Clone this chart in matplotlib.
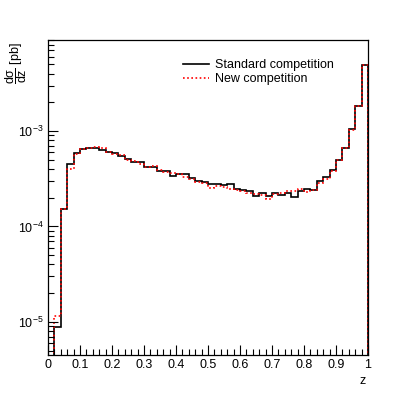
import numpy as np
import matplotlib
matplotlib.use("Agg")
import matplotlib.pyplot as plt
from matplotlib.ticker import FixedLocator, FixedFormatter, MultipleLocator

plt.rcParams['font.family'] = ['Liberation Sans', 'DejaVu Sans']
plt.rcParams['mathtext.fontset'] = 'custom'
plt.rcParams['mathtext.rm'] = 'Liberation Sans'
plt.rcParams['mathtext.it'] = 'Liberation Sans:italic'

# 50 bins in z from 0 to 1
edges = np.linspace(0, 1, 51)

standard = [3e-6, 8.9e-6, 1.52e-4, 4.51e-4, 5.93e-4, 6.53e-4, 6.68e-4, 6.59e-4, 6.28e-4, 6.07e-4,
            5.83e-4, 5.51e-4, 5.09e-4, 4.70e-4, 4.70e-4, 4.22e-4, 4.22e-4, 3.81e-4, 3.81e-4, 3.40e-4,
            3.55e-4, 3.55e-4, 3.20e-4, 2.99e-4, 2.92e-4, 2.81e-4, 2.81e-4, 2.70e-4, 2.77e-4, 2.45e-4,
            2.41e-4, 2.34e-4, 2.07e-4, 2.26e-4, 2.08e-4, 2.23e-4, 2.14e-4, 2.23e-4, 2.02e-4, 2.34e-4,
            2.49e-4, 2.41e-4, 2.99e-4, 3.30e-4, 3.91e-4, 4.97e-4, 6.60e-4, 1.04e-3, 1.83e-3, 4.91e-3]

new = [3e-6, 1.15e-5, 1.52e-4, 3.97e-4, 5.74e-4, 6.45e-4, 6.60e-4, 6.75e-4, 6.70e-4, 6.07e-4,
       5.74e-4, 5.60e-4, 5.00e-4, 4.85e-4, 4.55e-4, 4.25e-4, 4.30e-4, 3.90e-4, 3.70e-4, 3.66e-4,
       3.55e-4, 3.27e-4, 3.14e-4, 2.90e-4, 2.84e-4, 2.51e-4, 2.67e-4, 2.61e-4, 2.47e-4, 2.41e-4,
       2.37e-4, 2.23e-4, 2.19e-4, 2.12e-4, 1.95e-4, 2.19e-4, 2.23e-4, 2.35e-4, 2.35e-4, 2.45e-4,
       2.32e-4, 2.41e-4, 2.87e-4, 3.12e-4, 3.85e-4, 4.97e-4, 6.60e-4, 1.03e-3, 1.82e-3, 4.90e-3]

x_ticks = [0, 0.1, 0.2, 0.3, 0.4, 0.5, 0.6, 0.7, 0.8, 0.9, 1]
x_labels = ['0', '0.1', '0.2', '0.3', '0.4', '0.5', '0.6', '0.7', '0.8', '0.9', '1']
y_ticks = [1e-5, 1e-4, 1e-3]
y_labels = [r'$10^{-5}$', r'$10^{-4}$', r'$10^{-3}$']


def main():
    fig = plt.figure(figsize=(4.07, 3.96), dpi=100)
    ax = fig.add_axes([48/407, 1 - 355/396, 320/407, 315/396])

    ax.stairs(standard, edges, color='black', lw=1.2, label='Standard competition')
    ax.stairs(new, edges, color='red', lw=1.2, ls=(0, (1, 1.5)), label='New competition')

    ax.set_yscale('log')
    ax.set_xlim(0, 1)
    ax.set_ylim(4.5e-6, 9e-3)

    ax.xaxis.set_major_locator(FixedLocator(x_ticks))
    ax.xaxis.set_major_formatter(FixedFormatter(x_labels))
    ax.xaxis.set_minor_locator(MultipleLocator(0.02))
    ax.yaxis.set_major_locator(FixedLocator(y_ticks))
    ax.yaxis.set_major_formatter(FixedFormatter(y_labels))
    minors = [m * 10.0**e for e in range(-6, -1) for m in range(2, 10)]
    ax.yaxis.set_minor_locator(FixedLocator(minors))

    ax.tick_params(which='both', direction='in', top=False, right=False,
                   labelsize=9, width=0.8, pad=3)
    ax.tick_params(which='major', length=7)
    ax.tick_params(which='minor', length=4)
    for s in ax.spines.values():
        s.set_linewidth(0.9)

    fig.text(16/407, 1 - 42/396, r'$\dfrac{\mathrm{d\sigma}}{\mathrm{dz}}$ [pb]', rotation=90,
             ha='center', va='top', fontsize=9)
    fig.text(366/407, 1 - 384/396, 'z', ha='right', va='baseline', fontsize=9)

    ax.legend(loc='upper left', bbox_to_anchor=(130/320, 1 - 14/315), frameon=False,
              fontsize=9, handlelength=2.1, handletextpad=0.5, labelspacing=0.15,
              borderaxespad=0)

    fig.savefig('out.png', dpi=100)


if __name__ == '__main__':
    main()
